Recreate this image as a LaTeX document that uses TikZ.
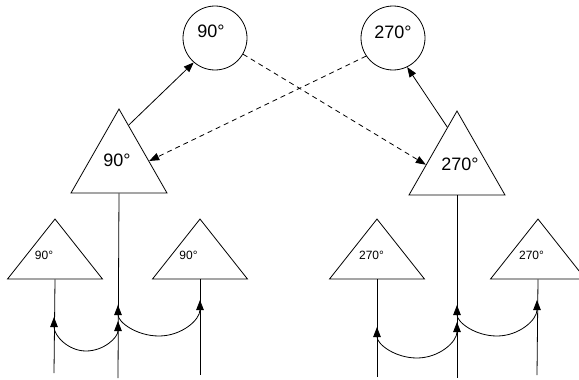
\documentclass[tikz,border=0pt]{standalone}
\usepackage{fontspec}
\setmainfont{Liberation Sans}
\usetikzlibrary{shapes.geometric,arrows.meta,calc}
\begin{document}
\begin{tikzpicture}[x=1pt,y=-1pt,
  line width=0.8pt,
  circ/.style={circle,draw,minimum size=64pt,inner sep=0pt},
  tri/.style={isosceles triangle,isosceles triangle stretches,shape border rotate=90,draw,inner sep=0pt,anchor=apex},
  bigtri/.style={tri,minimum width=96pt,minimum height=84pt},
  smalltri/.style={tri,minimum width=95pt,minimum height=60pt},
  bigtxt/.style={font=\fontsize{18}{20}\selectfont,inner sep=0pt},
  smalltxt/.style={font=\fontsize{12}{14}\selectfont,inner sep=0pt},
  tip/.tip={Triangle[length=10pt,width=7.5pt]},
  arr/.style={-tip},
  dsh/.style={-tip,dash pattern=on 5pt off 4pt},
  dbl/.style={tip-tip}
]
\useasboundingbox (0,0) rectangle (579,380);
\clip (0,0) rectangle (579,380);

% top circles
\node[circ] (c1) at (215,38) {};
\node[circ] (c2) at (393,38) {};
\node[bigtxt] (c1t) at (211,31) {90°};
\node[bigtxt] (c2t) at (393,32) {270°};

% big triangles
\node[bigtri] (t1) at (119,108) {};
\node[bigtri] (t2) at (457,110) {};
\node[bigtxt] (t1t) at (117,160) {90°};
\node[bigtxt] (t2t) at (460,164) {270°};

% small triangles
\node[smalltri] (s1) at (55,218) {};
\node[smalltri] (s2) at (200,218) {};
\node[smalltri] (s3) at (377,218) {};
\node[smalltri] (s4) at (538,218) {};
\node[smalltxt] (s1t) at (44,255) {90°};
\node[smalltxt] (s2t) at (188.5,255) {90°};
\node[smalltxt] (s3t) at (371.5,255) {270°};
\node[smalltxt] (s4t) at (531.5,255) {270°};

% top connectors
\draw[arr] ($(t1.apex)!0.2!(t1.right corner)$) -- (c1.229);
\draw[arr] ($(t2.apex)!0.2!(t2.left corner)$) -- (c2.296);
\draw[dsh] (c1.330) -- ($(t2.apex)!0.64!(t2.left corner)$);
\draw[dsh] (c2.214) -- ($(t1.apex)!0.62!(t1.right corner)$);

% bottom ends of vertical lines
\coordinate (b1) at (54,373);
\coordinate (b2) at (118,378);
\coordinate (b3) at (200,375);
\coordinate (b4) at (377,377);
\coordinate (b5) at (457,378);
\coordinate (b6) at (537,375);
\draw (s1.lower side) -- (b1);
\draw (t1.lower side) -- (b2);
\draw (s2.lower side) -- (b3);
\draw (s3.lower side) -- (b4);
\draw (t2.lower side) -- (b5);
\draw (s4.lower side) -- (b6);

% arc end points and lowest points
\coordinate (l1) at (54,317);
\coordinate (l2) at (118,321);
\coordinate (lm) at (86,351);
\coordinate (l3) at (118,305);
\coordinate (l4) at (200,300);
\coordinate (ln) at (159,336);
\coordinate (r1) at (377,327);
\coordinate (r2) at (457,322);
\coordinate (rm) at (417,358);
\coordinate (r3) at (457,305);
\coordinate (r4) at (537,300);
\coordinate (rn) at (497,336);
\draw[dbl] (l1) .. controls +(0,18.8) and +(-17.7,0) .. (lm)
                .. controls +(17.7,0) and +(0,16.6) .. (l2);
\draw[dbl] (l3) .. controls +(0,17.1) and +(-22.6,0) .. (ln)
                .. controls +(22.6,0) and +(0,19.9) .. (l4);
\draw[dbl] (r1) .. controls +(0,17.1) and +(-22.1,0) .. (rm)
                .. controls +(22.1,0) and +(0,19.9) .. (r2);
\draw[dbl] (r3) .. controls +(0,17.1) and +(-22.1,0) .. (rn)
                .. controls +(22.1,0) and +(0,19.9) .. (r4);
\end{tikzpicture}
\end{document}
